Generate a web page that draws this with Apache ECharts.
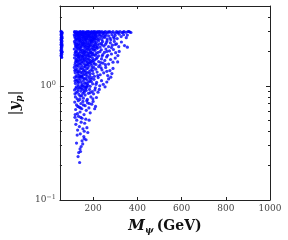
<!DOCTYPE html>
<html><head><meta charset="utf-8">
<script src="https://cdn.jsdelivr.net/npm/echarts@6/dist/echarts.min.js"></script>
<style>html,body{margin:0;padding:0;background:#fff}#c{width:288px;height:240px}</style>
</head><body><div id="c"></div>
<script>
const xTicks = [200, 400, 600, 800, 1000];
const yMajor = [0.1, 1];
const yMinor = [0.2, 0.3, 0.4, 0.5, 0.6, 0.7, 0.8, 0.9, 2, 3, 4, 5];

const strip = [[55,3.0],[58,2.95],[56,2.9],[59,2.85],[55,2.8],[57,2.75],[59,2.7],[56,2.65],[58,2.6],[55,2.55],[57,2.5],[59,2.45],[56,2.4],[58,2.35],[55,2.3],[57,2.25],[59,2.2],[56,2.15],[58,2.1],[55,2.05],[57,2.0],[59,1.96],[56,1.92],[58,1.88],[55,1.84],[57,1.8],[58,1.77],[60,2.92],[60,2.62],[60,2.28],[60,1.99]];

const bandTop = [[116,2.98],[121,2.92],[125,2.99],[129,2.88],[133,2.96],[137,2.9],[141,2.99],[145,2.86],[149,2.94],[153,2.99],[157,2.9],[161,2.97],[165,2.87],[169,2.95],[173,2.99],[177,2.91],[181,2.97],[185,2.86],[189,2.93],[193,2.99],[197,2.89],[201,2.96],[205,2.92],[209,2.99],[213,2.87],[217,2.95],[221,2.99],[226,2.9],[231,2.97],[236,2.93],[240,2.99],[245,2.88],[250,2.96],[256,2.99],[262,2.91],[268,2.97],[275,2.99],[283,2.93],[290,2.98],[298,2.89],[306,2.99],[314,2.95],[322,2.99],[331,2.92],[340,2.98],[349,2.94],[358,2.99],[366,2.96],[371,2.93],
[118,2.95],[131,2.93],[143,2.97],[155,2.95],[167,2.92],[179,2.99],[191,2.95],[203,2.99],[215,2.93],[228,2.99],[248,2.93],[272,2.94],[310,2.92],[336,2.95],[362,2.99]];

const bandB = [[115,2.8],[119,2.62],[123,2.74],[127,2.55],[131,2.83],[135,2.66],[139,2.51],[143,2.78],[147,2.6],[151,2.71],[155,2.53],[159,2.82],[163,2.64],[167,2.75],[171,2.57],[175,2.8],[179,2.68],[183,2.52],[187,2.77],[191,2.61],[195,2.72],[199,2.55],[203,2.83],[207,2.65],[211,2.76],[215,2.58],[220,2.7],[225,2.81],[230,2.6],[235,2.73],[240,2.53],[246,2.79],[252,2.65],[258,2.82],[264,2.57],[270,2.74],[277,2.62],[285,2.8],[292,2.68],[300,2.76],[309,2.59],[318,2.83],[327,2.7],[338,2.8],[350,2.64],[355,2.78],
[117,2.7],[125,2.58],[133,2.72],[141,2.64],[149,2.81],[157,2.67],[165,2.56],[173,2.69],[181,2.8],[189,2.53],[197,2.66],[205,2.58],[213,2.7],[222,2.55],[232,2.79],[243,2.66],[255,2.72],[280,2.53],[296,2.6]];

const bandC = [[116,2.45],[120,2.3],[124,2.18],[128,2.4],[132,2.25],[136,2.48],[140,2.16],[144,2.35],[148,2.22],[152,2.44],[156,2.29],[160,2.17],[164,2.38],[168,2.47],[172,2.24],[176,2.33],[180,2.19],[184,2.42],[188,2.27],[192,2.36],[196,2.16],[200,2.46],[205,2.3],[210,2.21],[215,2.4],[220,2.26],[225,2.48],[231,2.18],[237,2.35],[243,2.44],[249,2.23],[256,2.31],[263,2.47],[270,2.2],[278,2.38],[287,2.27],[296,2.45],[306,2.33],[316,2.2],[328,2.42],[342,2.25],[355,2.18],
[118,2.37],[126,2.29],[134,2.33],[142,2.43],[150,2.3],[158,2.39],[166,2.2],[174,2.43],[182,2.32],[190,2.47],[198,2.25],[207,2.41],[217,2.17],[228,2.33],[240,2.28],[260,2.39],[283,2.16],[300,2.3]];

const bandD = [[115,2.1],[119,1.95],[123,1.83],[127,2.05],[131,1.9],[135,2.12],[139,1.86],[143,1.99],[147,2.08],[151,1.82],[155,1.93],[159,2.03],[163,1.88],[167,2.11],[171,1.97],[175,1.84],[179,2.06],[183,1.91],[187,2.01],[191,1.81],[195,2.09],[199,1.94],[204,1.86],[209,2.04],[214,1.92],[219,2.13],[225,1.83],[231,1.99],[237,2.07],[244,1.88],[251,1.96],[258,2.1],[266,1.85],[274,2.02],[283,1.9],[292,2.08],[302,1.95],[312,1.84],[318,2.0],
[117,1.87],[125,1.97],[133,1.81],[141,2.07],[149,1.95],[157,1.85],[165,2.0],[173,2.09],[181,1.83],[189,1.96],[197,1.87],[207,2.11],[222,1.96],[241,1.82],[262,2.0]];

const bandE = [[116,1.76],[120,1.6],[124,1.7],[128,1.52],[132,1.65],[136,1.78],[140,1.56],[144,1.68],[148,1.5],[152,1.73],[156,1.62],[160,1.55],[164,1.77],[168,1.64],[172,1.53],[176,1.71],[180,1.59],[184,1.79],[188,1.66],[193,1.51],[198,1.74],[203,1.6],[208,1.69],[213,1.54],[219,1.77],[225,1.63],[231,1.52],[238,1.72],[245,1.58],[253,1.67],[261,1.79],[270,1.55],[279,1.7],[290,1.61],[300,1.75],[311,1.62],
[118,1.53],[126,1.63],[134,1.57],[142,1.75],[150,1.63],[158,1.7],[166,1.52],[174,1.62],[182,1.7],[190,1.57],[200,1.67],[215,1.73],[235,1.6],[256,1.53]];

const bandF = [[115,1.45],[119,1.3],[123,1.22],[127,1.4],[131,1.27],[135,1.48],[139,1.34],[143,1.21],[147,1.43],[151,1.31],[155,1.24],[159,1.46],[163,1.36],[167,1.25],[171,1.41],[175,1.29],[180,1.49],[185,1.22],[190,1.37],[195,1.44],[200,1.28],[206,1.21],[212,1.4],[218,1.32],[225,1.47],[232,1.25],[240,1.38],[248,1.3],[257,1.45],[266,1.23],[276,1.36],[285,1.28],[290,1.42],
[117,1.36],[125,1.48],[133,1.33],[141,1.41],[149,1.22],[157,1.35],[165,1.47],[173,1.21],[182,1.33],[198,1.36],[221,1.23],[236,1.44],[262,1.34]];

const bandG = [[116,1.18],[120,1.05],[124,0.98],[128,1.12],[132,1.02],[136,1.16],[140,0.96],[144,1.08],[148,1.19],[152,1.0],[156,1.1],[160,1.15],[164,0.97],[168,1.06],[172,1.13],[177,1.01],[182,1.17],[187,0.99],[192,1.09],[198,1.04],[204,1.14],[210,0.96],[216,1.07],[223,1.18],[230,1.0],[238,1.11],[246,1.03],[254,0.98],[262,1.08],[270,1.15],[280,1.19],
[118,1.1],[126,1.2],[134,1.07],[142,1.13],[150,1.04],[158,0.99],[166,1.16],[174,1.04],[185,1.1],[195,1.18],[213,1.03]];

const bandH = [[116,0.92],[120,0.8],[124,0.87],[128,0.77],[132,0.93],[136,0.84],[140,0.76],[144,0.9],[148,0.82],[152,0.94],[156,0.78],[160,0.88],[164,0.83],[169,0.91],[174,0.76],[179,0.86],[184,0.93],[190,0.8],[196,0.89],[202,0.85],[208,0.92],[215,0.79],[222,0.88],[228,0.93],
[118,0.85],[130,0.89],[142,0.81],[154,0.86],[166,0.94],[187,0.87],[199,0.77]];

const bandI = [[117,0.72],[121,0.62],[125,0.68],[129,0.57],[133,0.74],[137,0.65],[141,0.59],[145,0.7],[149,0.63],[154,0.73],[159,0.56],[164,0.67],[169,0.61],[175,0.71],[181,0.64],[187,0.58],[194,0.69],[200,0.73],[207,0.63],[211,0.66],
[119,0.56],[131,0.66],[143,0.64],[156,0.68],[171,0.74],[183,0.7]];

const bandJ = [[118,0.53],[122,0.46],[126,0.5],[130,0.41],[134,0.54],[138,0.44],[142,0.38],[146,0.48],[150,0.52],[154,0.42],[158,0.36],[162,0.47],[167,0.51],[172,0.43],[176,0.39],[182,0.5],
[128,0.37],[144,0.53],[160,0.4]];

const bandK = [[125,0.315],[132,0.24],[135,0.26],[139,0.213],[141,0.28],[143,0.266],[146,0.294],[150,0.33],[153,0.31],[160,0.345],[168,0.337]];

const coreExtra = [[121,2.86],[127,2.77],[135,2.83],[139,2.74],[147,2.88],[153,2.79],[161,2.72],[169,2.84],[177,2.76],[185,2.7],[193,2.87],[201,2.74],[209,2.81],
[122,2.52],[130,2.6],[138,2.57],[146,2.5],[154,2.62],[162,2.52],[170,2.63],[178,2.58],[186,2.66],[194,2.5],[202,2.62],[210,2.54],
[121,2.22],[129,2.15],[137,2.27],[145,2.19],[153,2.36],[161,2.26],[169,2.32],[177,2.17],[185,2.23],[193,2.41],[203,2.2],[212,2.31],
[121,2.0],[129,1.86],[137,1.94],[145,1.84],[153,2.04],[161,1.95],[169,1.84],[177,1.92],[185,2.1],[193,1.93],[202,2.07],[211,1.85],
[122,1.66],[130,1.74],[138,1.67],[146,1.58],[154,1.78],[162,1.68],[170,1.74],[178,1.55],[186,1.6],[195,1.64],[205,1.55],
[121,1.38],[129,1.33],[137,1.24],[145,1.3],[153,1.4],[161,1.28],[169,1.32],[177,1.43],[187,1.28],[203,1.45],
[122,1.13],[130,1.09],[138,1.2],[146,1.0],[154,1.17],[162,1.05],[170,0.99],[179,1.08],[190,1.14],
[122,0.95],[134,0.98],[146,0.95],[158,0.91],[172,0.97]];

const points = [].concat(strip, bandTop, bandB, bandC, bandD, bandE, bandF, bandG, bandH, bandI, bandJ, bandK, coreExtra);

const serif = '"DejaVu Serif", "Liberation Serif", serif';
const lineStyle = {color: '#222', width: 1};
function yLab(v) { return v === 1 ? '10{s|0}' : '10{s|−1}'; }

const chart = echarts.init(document.getElementById('c'), null, {renderer: 'canvas'});
chart.setOption({
  animation: false,
  backgroundColor: '#fff',
  grid: {left: 49, right: 18, top: 6, bottom: 40},
  xAxis: [
    {type: 'value', min: 50, max: 1000, position: 'bottom',
     axisLine: {show: true, lineStyle}, splitLine: {show: false},
     axisTick: {show: true, inside: true, length: 3, lineStyle, customValues: xTicks},
     axisLabel: {show: true, customValues: xTicks, formatter: v => String(v), color: '#444', fontFamily: serif, fontSize: 9, margin: 4},
     name: '{m|M}{sub|ψ} {g|(GeV)}', nameLocation: 'middle', nameGap: 18,
     nameTextStyle: {rich: {
       m: {fontFamily: serif, fontStyle: 'italic', fontWeight: 'bold', fontSize: 15, color: '#111'},
       sub: {fontFamily: serif, fontStyle: 'italic', fontWeight: 'bold', fontSize: 9, color: '#111', padding: [8, 0, 0, 0]},
       g: {fontFamily: serif, fontWeight: 'bold', fontSize: 14, color: '#111'}
     }}},
    {type: 'value', min: 50, max: 1000, position: 'top',
     axisLine: {show: true, lineStyle}, splitLine: {show: false},
     axisTick: {show: true, inside: true, length: 3, lineStyle, customValues: xTicks},
     axisLabel: {show: false}}
  ],
  yAxis: [
    {type: 'log', min: 0.1, max: 5, position: 'left',
     axisLine: {show: true, lineStyle}, splitLine: {show: false}, minorTick: {show: false},
     axisTick: {show: true, inside: true, length: 4, lineStyle, customValues: yMajor},
     axisLabel: {show: true, customValues: yMajor, formatter: yLab, color: '#444', fontFamily: serif, fontSize: 9, margin: 4,
       rich: {s: {fontSize: 6.5, fontFamily: serif, color: '#444', padding: [0, 0, 6, 0]}}},
     name: '{b||}{y|y}{sub|p}{b||}', nameLocation: 'middle', nameGap: 28,
     nameTextStyle: {rich: {
       b: {fontFamily: serif, fontSize: 15, color: '#111'},
       y: {fontFamily: serif, fontStyle: 'italic', fontWeight: 'bold', fontSize: 15, color: '#111'},
       sub: {fontFamily: serif, fontStyle: 'italic', fontWeight: 'bold', fontSize: 9, color: '#111', padding: [8, 0, 0, 0]}
     }}},
    {type: 'log', min: 0.1, max: 5, position: 'left',
     axisLine: {show: false}, splitLine: {show: false},
     axisTick: {show: true, inside: true, length: 2, lineStyle, customValues: yMinor},
     axisLabel: {show: false}},
    {type: 'log', min: 0.1, max: 5, position: 'right',
     axisLine: {show: true, lineStyle}, splitLine: {show: false},
     axisTick: {show: true, inside: true, length: 4, lineStyle, customValues: yMajor},
     axisLabel: {show: false}},
    {type: 'log', min: 0.1, max: 5, position: 'right',
     axisLine: {show: false}, splitLine: {show: false},
     axisTick: {show: true, inside: true, length: 2, lineStyle, customValues: yMinor},
     axisLabel: {show: false}}
  ],
  series: [{
    type: 'scatter', xAxisIndex: 0, yAxisIndex: 0, data: points,
    symbol: 'circle', symbolSize: 3.2, itemStyle: {color: '#0000ff'}, silent: true
  }]
});
</script>
</body></html>
